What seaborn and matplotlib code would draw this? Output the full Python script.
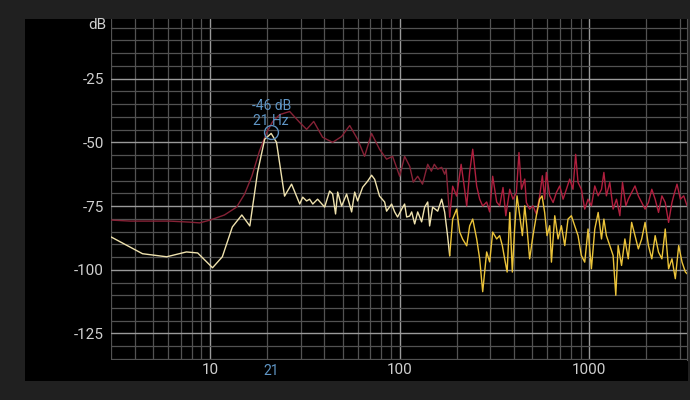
import numpy as np
import pandas as pd
import seaborn as sns
import matplotlib.pyplot as plt
from matplotlib.patches import Rectangle
from matplotlib.ticker import FixedLocator, NullFormatter

# spectrum readings (Hz, dB)
red_freq = [3.0, 3.8, 4.8, 6.1, 7.8, 8.8, 10.0, 11.9, 13.8, 15.2, 16.6, 18.2, 19.9, 21.4, 23.3,
            26.3, 29.7, 32.3, 35.2, 39.2, 44.3, 49.4, 54.5, 60, 65.3, 71.1, 78.3, 85.3, 91.8,
            100, 106.2, 113, 118, 124.5, 132, 140.6, 147, 152.3, 158.7, 166.6, 172.7, 176,
            183.6, 190.4, 199.8, 211, 219, 225.8, 234, 242.9, 254.9, 264.3, 274.2, 287.7,
            298.4, 309.6, 324.9,
            337, 351, 363, 381, 396, 413, 426, 439, 457, 466, 485, 505, 526, 548, 566, 582,
            594, 619, 645, 671, 699, 728, 758, 789, 821, 848, 873, 909, 947, 986, 1027, 1070,
            1115, 1161, 1195, 1232, 1284, 1337, 1393, 1451, 1498, 1561, 1607, 1674, 1744,
            1816, 1892, 1971, 2053, 2139, 2228, 2321, 2418, 2518, 2623, 2732, 2789, 2905,
            3026, 3152, 3283]
red_db = [-80.5, -80.9, -80.9, -80.9, -81.3, -81.6, -80.5, -78.5, -75.4, -70.3, -63.3, -53.5,
          -46.1, -41.8, -39.1, -37.9, -42.2, -44.9, -41.8, -48.0, -50.0, -47.7, -43.4, -48.8,
          -55.5, -46.5, -52.7, -56.6, -55.5, -63.3, -55.5, -59.4, -65.6, -63.3, -66.4, -58.6,
          -61.3, -58.6, -60.5, -59.8, -62.5, -60.5, -79.3, -67.2, -71.1, -58.6, -67.2, -75.0,
          -61.7, -52.7, -67.2, -72.3, -75.0, -73.4, -77.3, -63.3, -73.4,
          -74.9, -67.7, -78.8, -68.4, -72.3, -69.7, -54.0, -68.4, -64.4, -73.6, -76.2, -74.9,
          -78.1, -71.0, -63.1, -72.3, -61.8, -71.0, -73.6, -69.7, -67.1, -72.3, -68.4, -64.4,
          -68.4, -54.7, -65.7, -68.4, -76.2, -72.3, -74.9, -67.1, -71.0, -68.4, -61.8, -71.0,
          -65.7, -76.2, -72.3, -78.8, -65.7, -74.9, -72.3, -69.7, -67.1, -71.0, -73.6, -76.2,
          -73.6, -68.4, -72.3, -77.5, -71.0, -73.6, -81.4, -73.6, -71.0, -66.4, -72.3, -71.0,
          -74.9]

yel_freq = [3.0, 4.4, 5.9, 7.5, 8.6, 10.3, 11.6, 13.1, 14.7, 16.2, 17.8, 19.4, 21, 22.4, 24.7,
            26.9, 29.7, 30.8, 32.3, 33.5, 34.8, 36.9, 40.2, 42.7, 44.3, 45.9, 47.1, 49.4,
            52.5, 55.8, 57.9, 60.0, 63.8, 67.8, 71.1, 73.8, 78.3, 83.3, 85.3, 90.7, 94.1,
            97.5, 102.5, 106.2, 108.9, 113, 115.7, 120, 124.5, 130.6, 135.5, 140.6, 143.9,
            149.3, 158.7, 166.6, 172.7, 179, 183.6, 190.4, 199.8, 207.3, 215, 225.8, 234,
            242.9, 254.9, 264.3, 274.2, 287.7, 298.4, 309.6, 324.9,
            337, 348, 358, 369, 381, 393, 404, 416, 430, 444, 457, 470, 485, 505, 526, 548,
            564, 582, 599, 619, 632, 658, 685, 713, 743, 773, 805, 838, 873, 909, 947, 986,
            1027, 1070, 1115, 1161, 1195, 1232, 1284, 1337, 1381, 1421, 1481, 1542, 1607,
            1674, 1744, 1816, 1892, 1971, 2053, 2139, 2228, 2321, 2418, 2518, 2623, 2732,
            2846, 2965, 3088, 3217, 3351]
yel_db = [-87.1, -93.7, -94.9, -93.0, -93.4, -99.2, -94.9, -83.2, -78.5, -82.8, -61.7, -48.8,
          -46.5, -50.0, -71.1, -66.4, -74.2, -71.5, -73.0, -72.3, -74.2, -72.3, -75.4, -69.1,
          -70.3, -78.1, -69.5, -75.0, -70.3, -77.3, -69.5, -73.0, -67.6, -65.2, -62.9, -64.5,
          -71.1, -73.4, -77.0, -74.2, -77.3, -79.3, -76.2, -74.2, -79.3, -78.9, -77.3, -82.0,
          -77.3, -81.2, -75.4, -73.4, -82.8, -75.4, -77.0, -72.3, -77.3, -86.7, -94.5, -80.1,
          -76.2, -85.2, -88.0, -90.6, -82.8, -80.1, -87.9, -95.7, -108.6, -93.0, -96.9, -85.2,
          -87.9,
          -86.6, -90.5, -95.7, -100.9, -77.5, -100.9, -84.0, -71.0, -78.8, -86.6, -74.9, -84.0,
          -95.7, -86.6, -78.8, -72.3, -71.0, -77.5, -86.6, -82.7, -97.0, -78.8, -87.9, -82.7,
          -90.5, -80.1, -78.8, -82.7, -86.6, -94.4, -97.0, -84.0, -99.6, -84.0, -77.5, -87.9,
          -80.1, -86.6, -90.5, -94.4, -110.0, -90.5, -98.3, -87.9, -95.7, -81.4, -86.6, -91.8,
          -87.9, -81.4, -90.5, -95.7, -86.6, -93.1, -95.7, -84.0, -99.6, -95.7, -103.5, -90.5,
          -97.0, -100.9, -102.2]

peak_freq = 21
peak_db = -46
y_ticks = [-125, -100, -75, -50, -25]
x_ticks = [10, 100, 1000]

red = pd.DataFrame({"f": red_freq, "db": red_db})
yel = pd.DataFrame({"f": yel_freq, "db": yel_db})

sns.set_style("dark")
plt.rcParams["font.family"] = ["Roboto", "DejaVu Sans"]

fig = plt.figure(figsize=(6.9, 4.0), dpi=100, facecolor="#202020")
panel = Rectangle((25 / 690, 19 / 400), 663 / 690, 362 / 400, transform=fig.transFigure,
                  facecolor="black", edgecolor="none", lw=0, zorder=-5)
fig.add_artist(panel)
ax = fig.add_axes([111 / 690, 40 / 400, 576 / 690, 341 / 400])
ax.set_facecolor("black")

ax.set_xscale("log")
ax.set_xlim(3, 3280)
ax.set_ylim(-135.4, -1.6)

# grid
ax.xaxis.set_major_locator(FixedLocator(x_ticks))
ax.xaxis.set_minor_locator(FixedLocator([3, 4, 5, 6, 7, 8, 9, 20, 30, 40, 50, 60, 70, 80, 90,
                                         200, 300, 400, 500, 600, 700, 800, 900, 2000, 3000]))
ax.xaxis.set_minor_formatter(NullFormatter())
ax.yaxis.set_major_locator(FixedLocator(y_ticks))
ax.yaxis.set_minor_locator(FixedLocator(list(range(-135, 0, 5))))
ax.grid(which="major", color="#9a9a9a", lw=1.0)
ax.grid(which="minor", color="#525252", lw=0.9)
ax.set_axisbelow(True)
for s in ["top", "left", "bottom"]:
    ax.spines[s].set_visible(False)
ax.spines["right"].set_color("#525252")
ax.tick_params(which="both", length=0, colors="#cfcfcf", labelsize=11)
ax.tick_params(axis="y", pad=5)
ax.tick_params(axis="x", pad=2)
ax.set_xticklabels(["10", "100", "1000"])
ax.set_yticklabels([str(v) for v in y_ticks])

# lines: darker at low frequencies, brighter above ~180 Hz
lo_r, hi_r = red[red.f <= 184], red[red.f >= 183]
lo_y, hi_y = yel[yel.f <= 184], yel[yel.f >= 183]
sns.lineplot(data=lo_r, x="f", y="db", ax=ax, color="#862236", lw=1.0, estimator=None, sort=False)
sns.lineplot(data=hi_r, x="f", y="db", ax=ax, color="#b01f3e", lw=1.0, estimator=None, sort=False)
sns.lineplot(data=lo_y, x="f", y="db", ax=ax, color="#efe2ae", lw=1.0, estimator=None, sort=False)
sns.lineplot(data=hi_y, x="f", y="db", ax=ax, color="#ecc43a", lw=1.0, estimator=None, sort=False)
ax.set_xlabel("")
ax.set_ylabel("")

# peak marker
ax.plot([peak_freq], [peak_db], marker="o", ms=10, mfc="none", mec="#5d8fbd", mew=1.0)
ax.annotate(f"{peak_db} dB\n{peak_freq} Hz", (peak_freq, peak_db), xytext=(0, 3),
            textcoords="offset points", ha="center", va="bottom", color="#5f95c4",
            fontsize=10, linespacing=1.1)
ax.text(peak_freq, -0.013, str(peak_freq), transform=ax.get_xaxis_transform(),
        ha="center", va="top", color="#5f95c4", fontsize=10)
fig.text(106 / 690, 1 - 25 / 400, "dB", ha="right", va="center", color="#cfcfcf", fontsize=11)

fig.savefig("out.png", dpi=100, facecolor=fig.get_facecolor())
